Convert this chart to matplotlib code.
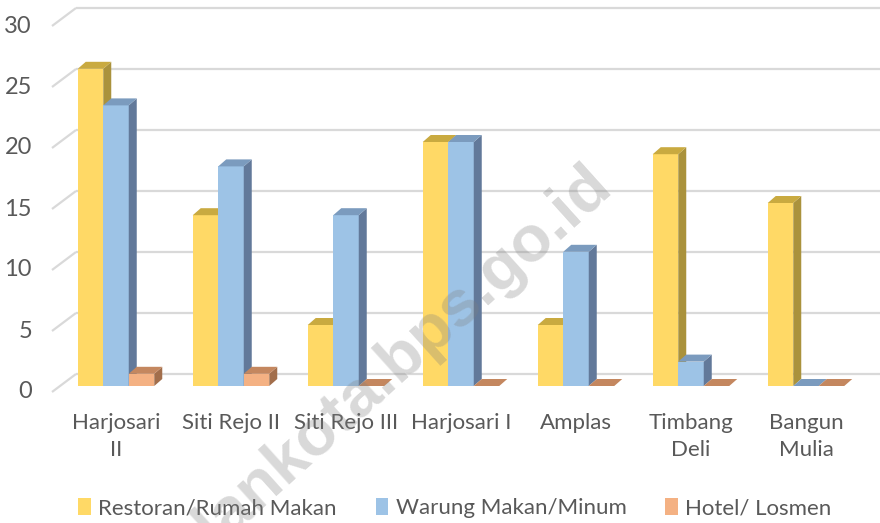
import matplotlib

matplotlib.use("Agg")
import matplotlib.pyplot as plt
from matplotlib.patches import Polygon, Patch

plt.rcParams["font.family"] = ["Lato", "DejaVu Sans"]

categories = ["Harjosari\nII", "Siti Rejo II", "Siti Rejo III", "Harjosari I",
              "Amplas", "Timbang\nDeli", "Bangun\nMulia"]
series_names = ["Restoran/Rumah Makan", "Warung Makan/Minum", "Hotel/ Losmen"]
restoran = [26, 14, 5, 20, 5, 19, 15]
warung = [23, 18, 14, 20, 11, 2, 0]
hotel = [1, 1, 0, 0, 0, 0, 0]
yticks = [0, 5, 10, 15, 20, 25, 30]

# front, top, side shades
colors = [
    ("#FFD966", "#C9AA40", "#AA923C"),
    ("#9DC3E6", "#7B9BBE", "#62799A"),
    ("#F4B183", "#C4875F", "#A26E4B"),
]

PX_X = 115.0   # pixels per category
PX_Y = 12.2    # pixels per unit
BAR_W = 25.5 / PX_X
DDX = 8 / PX_X     # bar depth (x)
DDY = 7 / PX_Y     # bar depth (y)
FLOOR_FRONT = -6 / PX_Y
FLOOR_BACK = 12 / PX_Y
DIAG_X0 = (52 - 116) / PX_X
DIAG_X1 = (76 - 116) / PX_X

fig = plt.figure(figsize=(8.8, 5.23), dpi=100)
ax = fig.add_axes([0, 0, 1, 1])
ax.set_xlim(-116 / PX_X, (880 - 116) / PX_X)
ax.set_ylim((386 - 523) / PX_Y, 386 / PX_Y)
ax.axis("off")

grid_c = "#D9D9D9"
for t in yticks:
    ax.plot([DIAG_X0, DIAG_X1], [t + FLOOR_FRONT, t + FLOOR_BACK],
            color=grid_c, lw=1.6, zorder=1, solid_capstyle="butt")
    ax.plot([DIAG_X1, 10], [t + FLOOR_BACK, t + FLOOR_BACK],
            color=grid_c, lw=1.6, zorder=1, solid_capstyle="butt")
    ax.text((32 - 116) / PX_X, t + FLOOR_FRONT, str(t), ha="right", va="center",
            fontsize=17, color="#595959")

for k, vals in enumerate([restoran, warung, hotel]):
    front, top, side = colors[k]
    xs = [i + (k - 1) * BAR_W for i in range(len(vals))]
    ax.bar(xs, vals, width=BAR_W, color=front, zorder=2 + k * 3)
    for x, v in zip(xs, vals):
        xl, xr = x - BAR_W / 2, x + BAR_W / 2
        ax.add_patch(Polygon([(xr, 0), (xr + DDX, DDY), (xr + DDX, v + DDY), (xr, v)],
                             closed=True, color=side, lw=0, zorder=3 + k * 3))
        ax.add_patch(Polygon([(xl, v), (xl + DDX, v + DDY), (xr + DDX, v + DDY), (xr, v)],
                             closed=True, color=top, lw=0, zorder=3 + k * 3))

for i, name in enumerate(categories):
    ax.text(i, (386 - 413) / PX_Y, name, ha="center", va="top", fontsize=16,
            color="#595959", linespacing=1.45)

handles = [Patch(facecolor=c[0], edgecolor="none") for c in colors]
fig.legend(handles, series_names, loc="center", bbox_to_anchor=(455 / 880, 1 - 508 / 523),
           ncol=3, frameon=False, fontsize=16, handlelength=0.55, handleheight=0.85,
           handletextpad=0.35, columnspacing=1.75, labelcolor="#595959")

fig.text(603 / 880, 1 - 176 / 523, "medankota.bps.go.id", rotation=42,
         rotation_mode="anchor", ha="right", va="center", fontsize=47,
         fontweight="bold", family="Liberation Sans", color="#808080", alpha=0.3,
         zorder=20)

fig.savefig("out.png", dpi=100)
